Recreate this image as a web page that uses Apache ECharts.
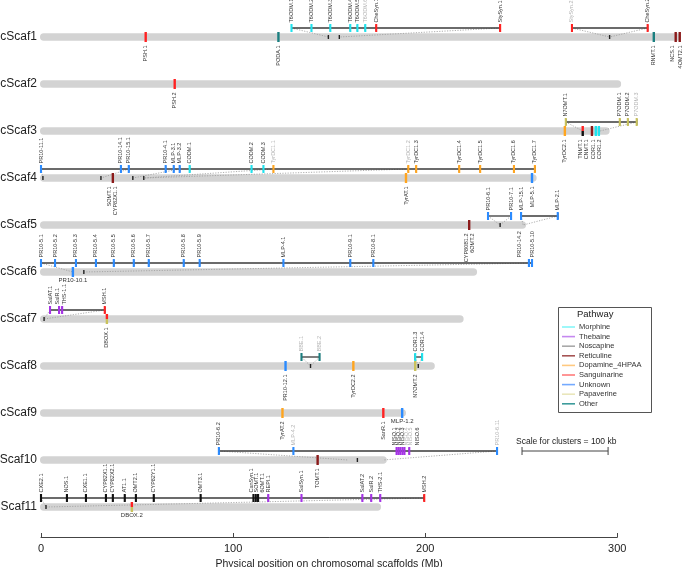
<!DOCTYPE html>
<html><head><meta charset="utf-8">
<script src="https://cdn.jsdelivr.net/npm/echarts@6/dist/echarts.min.js"></script>
<style>html,body{margin:0;padding:0;background:#fff}#c{width:685px;height:567px}</style>
</head><body><div id="c"></div>
<script>
// ---------------- DATA ----------------
const scaffoldNames = ['cScaf1','cScaf2','cScaf3','cScaf4','cScaf5','cScaf6','cScaf7','cScaf8','cScaf9','cScaf10','cScaf11'];
const scaffoldLengths = [333, 302, 296, 258, 252.5, 227, 220, 205, 190, 180, 177];
const pathways = ['Morphine','Thebaine','Noscapine','Reticuline','Dopamine_4HPAA','Sanguinarine','Unknown','Papaverine','Other'];
const axisTicks = [0, 100, 200, 300];
// genes placed directly on scaffolds: [scaffold, position (Mb), name, pathway(s), label mode]
const scaffoldGenes = [
  [1, 54.5, 'PSH.1', 'Sanguinarine', 'v'],
  [1, 123.6, 'PODA.1', 'Other', 'v'],
  [1, 319.0, 'RNMT.1', 'Other', 'v'],
  [1, 330.4, 'NCS.1', 'Reticuline', 'v'],
  [1, 332.5, '4OMT2.1', 'Reticuline', 'v'],
  [2, 69.6, 'PSH.2', 'Sanguinarine', 'v'],
  [3, 272.7, 'TyrDC2.1', 'Dopamine_4HPAA', 'v'],
  [3, 282.0, 'TNMT.1', 'Sanguinarine|Noscapine', 'v'],
  [3, 286.8, 'CNMT.1', 'Reticuline', 'v'],
  [3, 288.8, 'COR1.1', 'Morphine', 'v'],
  [3, 290.4, 'COR1.2', 'Morphine', 'v'],
  [4, 37.4, 'SOMT.1\nCYP82X1.1', 'Reticuline', 'v'],
  [4, 190.0, 'TyrAT.1', 'Dopamine_4HPAA', 'v'],
  [4, 255.6, 'MLP-5.1', 'Unknown', 'v'],
  [5, 222.9, 'CYP80B1.2\n6OMT.2', 'Reticuline', 'v'],
  [6, 16.6, 'PR10-10.1', 'Unknown', 'h'],
  [7, 34.3, 'DBOX.1', 'Sanguinarine|Papaverine', 'v'],
  [8, 127.3, 'PR10-12.1', 'Unknown', 'v'],
  [8, 162.6, 'TyrDC2.2', 'Dopamine_4HPAA', 'v'],
  [8, 194.8, 'N7OMT.2', 'Papaverine', 'v'],
  [9, 125.7, 'TyrAT.2', 'Dopamine_4HPAA', 'v'],
  [9, 178.2, 'SanR.1', 'Sanguinarine', 'v'],
  [9, 188.0, 'MLP-1.2', 'Unknown', 'h'],
  [10, 144.0, 'TOMT.1', 'Reticuline', 'v'],
  [11, 47.3, 'DBOX.2', 'Sanguinarine|Papaverine', 'h']
];
// genes in expanded clusters: [scaffold, cluster, display position (Mb axis), name, pathway, grey label]
const clusterGenes = [
  [1,'1a',130.4,'T6ODM.1','Morphine',0],[1,'1a',140.8,'T6ODM.2','Morphine',0],[1,'1a',150.6,'T6ODM.3','Morphine',0],
  [1,'1a',161.0,'T6ODM.4','Morphine',0],[1,'1a',164.7,'T6ODM.5','Morphine',0],[1,'1a',168.8,'T6ODM.6','Morphine',1],
  [1,'1a',174.5,'CheSyn.1','Sanguinarine',0],[1,'1a',239.0,'StySyn.1','Sanguinarine',0],
  [1,'1b',276.4,'StySyn.2','Sanguinarine',1],[1,'1b',315.8,'CheSyn.2','Sanguinarine',0],
  [3,'3a',273.2,'N7OMT.1','Papaverine',0],[3,'3a',301.3,'P7ODM.1','Papaverine',0],[3,'3a',305.5,'P7ODM.2','Papaverine',0],[3,'3a',310.1,'P7ODM.3','Papaverine',1],
  [4,'4a',0.0,'PR10-11.1','Unknown',0],[4,'4a',41.6,'PR10-14.1','Unknown',0],[4,'4a',45.7,'PR10-15.1','Unknown',0],
  [4,'4a',64.9,'PR10-4.1','Unknown',0],[4,'4a',69.1,'MLP-3.1','Unknown',0],[4,'4a',72.2,'MLP-3.2','Unknown',0],
  [4,'4a',77.4,'CODM.1','Morphine',0],[4,'4a',109.6,'CODM.2','Morphine',0],[4,'4a',115.8,'CODM.3','Morphine',0],
  [4,'4a',121.0,'TyrDC1.1','Dopamine_4HPAA',1],[4,'4a',191.2,'TyrDC1.2','Dopamine_4HPAA',1],[4,'4a',195.3,'TyrDC1.3','Dopamine_4HPAA',0],
  [4,'4a',217.7,'TyrDC1.4','Dopamine_4HPAA',0],[4,'4a',228.6,'TyrDC1.5','Dopamine_4HPAA',0],[4,'4a',246.2,'TyrDC1.6','Dopamine_4HPAA',0],
  [4,'4a',257.1,'TyrDC1.7','Dopamine_4HPAA',0],
  [5,'5a',232.7,'PR10-6.1','Unknown',0],[5,'5a',244.7,'PR10-7.1','Unknown',0],
  [5,'5b',249.9,'MLP-15.1','Unknown',0],[5,'5b',269.0,'MLP-2.1','Unknown',0],
  [6,'6a',0.0,'PR10-5.1','Unknown',0],[6,'6a',7.3,'PR10-5.2','Unknown',0],[6,'6a',18.2,'PR10-5.3','Unknown',0],
  [6,'6a',28.6,'PR10-5.4','Unknown',0],[6,'6a',37.9,'PR10-5.5','Unknown',0],[6,'6a',48.3,'PR10-5.6','Unknown',0],
  [6,'6a',56.1,'PR10-5.7','Unknown',0],[6,'6a',74.3,'PR10-5.8','Unknown',0],[6,'6a',82.6,'PR10-5.9','Unknown',0],
  [6,'6a',126.2,'MLP-4.1','Unknown',0],[6,'6a',161.0,'PR10-9.1','Unknown',0],[6,'6a',173.0,'PR10-8.1','Unknown',0],
  [6,'6a',254.0,'PR10-14.2','Unknown',0],[6,'6a',255.6,'PR10-5.10','Unknown',0],
  [7,'7a',4.7,'SalAT.1','Thebaine',0],[7,'7a',9.4,'SalR.1','Thebaine',0],[7,'7a',11.0,'THS-1.1','Thebaine',0],[7,'7a',33.2,'MSH.1','Sanguinarine',0],
  [8,'8a',135.6,'BBE.1','Other',1],[8,'8a',145.0,'BBE.2','Other',1],
  [8,'8b',194.8,'COR1.3','Morphine',0],[8,'8b',198.4,'COR1.4','Morphine',0],
  [10,'10a',92.6,'PR10-6.2','Unknown',0],[10,'10a',131.4,'MLP-4.2','Unknown',1],
  [10,'10a',185.1,'NISO.1','Thebaine',0],[10,'10a',186.1,'NISO.2','Thebaine',0],[10,'10a',187.1,'NISO.3','Thebaine',0],
  [10,'10a',188.2,'NISO.4','Thebaine',1],[10,'10a',189.2,'NISO.5','Thebaine',1],[10,'10a',191.7,'NISO.6','Thebaine',0],
  [10,'10a',237.4,'PR10-6.11','Unknown',1],
  [11,'11a',0.0,'CXE2.1','Noscapine',0],[11,'11a',13.5,'NOS.1','Noscapine',0],[11,'11a',23.4,'CXE1.1','Noscapine',0],
  [11,'11a',33.8,'CYP82X1.1','Noscapine',0],[11,'11a',37.4,'CYP82X2.1','Noscapine',0],[11,'11a',43.6,'AT1.1','Noscapine',0],
  [11,'11a',49.4,'OMT2.1','Noscapine',0],[11,'11a',58.7,'CYP82Y1.1','Noscapine',0],[11,'11a',83.1,'OMT3.1','Noscapine',0],
  [11,'11a',110.6,'CanSyn.1','Noscapine',0],[11,'11a',111.8,'SOMT.1','Noscapine',0],[11,'11a',113.0,'6OMT.1','Noscapine',0],
  [11,'11a',118.3,'REPI.1','Thebaine',0],[11,'11a',135.6,'SalSyn.1','Thebaine',0],[11,'11a',167.3,'SalAT.2','Thebaine',0],
  [11,'11a',171.9,'SalR.2','Thebaine',0],[11,'11a',176.6,'THS-2.1','Thebaine',0],[11,'11a',199.5,'MSH.2','Sanguinarine',0]
];
// dotted links from cluster display position to genomic position: [scaffold, cluster pos, scaffold pos]
const clusterLinks = [
  [1,130.4,149.6],[1,239.0,155.3],[1,276.4,296.0],[1,315.8,296.0],
  [3,273.2,282.0],[3,310.1,291.0],
  [4,0.0,1.0],[4,45.7,31.2],[4,72.2,47.8],[4,121.0,53.5],[4,191.2,53.5],
  [5,232.7,239.0],[5,244.7,239.0],[5,249.9,251.0],[5,269.0,251.0],
  [6,0.0,16.6],[6,255.6,22.3],
  [7,4.7,1.6],[7,33.2,1.6],
  [8,135.6,140.3],[8,145.0,140.3],[8,194.8,196.4],[8,198.4,196.4],
  [10,92.6,160.0],[10,237.4,178.0],
  [11,0.0,2.6],[11,199.5,2.6]
];
// genomic anchors of clusters on scaffolds: [scaffold, position]
const regionTicks = [[1,149.6],[1,155.3],[1,296.0],[4,1.0],[4,31.2],[4,47.8],[4,53.5],[5,239.0],[6,22.3],[7,1.6],[8,140.3],[8,196.4],[10,164.7],[11,2.6]];
const clusterScaleKb = 100;
const clusterScaleMb = 44.8;   // axis span of 100 kb in cluster view

// ---------------- STYLE / LAYOUT ----------------
const plotColor = {Morphine:'#1fe3ee',Thebaine:'#a633e6',Noscapine:'#111111',Reticuline:'#8b1a1a',Dopamine_4HPAA:'#ffa51f',
  Sanguinarine:'#ff2222',Unknown:'#2b8bff',Papaverine:'#c9c25c',Other:'#1b7f80'};
const legendColor = {Morphine:'#86f6f8',Thebaine:'#c588f0',Noscapine:'#a9a9a9',Reticuline:'#a65454',Dopamine_4HPAA:'#ffc980',
  Sanguinarine:'#ff7b7b',Unknown:'#74aaff',Papaverine:'#e9e6bb',Other:'#3d9c9c'};
const labelShift = {'TNMT.1':-2,'CNMT.1':-5,'COR1.1':-2,'COR1.2':1,'SalR.1':-2,'THS-1.1':2,'PR10-14.2':-9,
  'NISO.1':-2,'NISO.2':0,'NISO.3':2,'NISO.4':4,'NISO.5':6,'NISO.6':8,'CanSyn.1':-2,'SOMT.1':1,'6OMT.1':4,'NCS.1':-3,'4OMT2.1':1};
const FONT = '"Liberation Sans", Arial, Helvetica, sans-serif';
const L = {barH:7.5, geneH:10, geneW:2.4, cDy:-9, cH:8, cW:2.1, tickH:4, below:8.5, above:5.5, fs:5.5};

// ---------------- BUILD ----------------
const X0 = 41, PX = 1.921;
const grid0 = {left:X0, top:13.5, width:PX*334, height:517, outerBoundsMode:'none', containLabel:false};
const clusters = {};
clusterGenes.forEach(g=>{const k=g[1];if(!clusters[k])clusters[k]={scaf:g[0],min:g[2],max:g[2]};
  clusters[k].min=Math.min(clusters[k].min,g[2]);clusters[k].max=Math.max(clusters[k].max,g[2]);});
const clusterList = Object.keys(clusters).map(k=>clusters[k]);

function labelText(x,y,name,grey,mode,rot){
  const st = {text:name, fontSize:L.fs, fill:grey?'#b3b3b3':'#333', fontFamily:FONT, verticalAlign:'middle'};
  if(mode==='h'){ st.align='center'; st.fontSize=6; return {type:'text',x:x,y:y+8.5,style:st}; }
  st.align = rot;
  return {type:'text', x:x, y:y, rotation:Math.PI/2, style:st};
}

const markerSeries = pathways.map(pw=>{
  const items = [];
  scaffoldGenes.forEach(g=>{ if(g[3].split('|')[0]===pw) items.push({kind:'s',scaf:g[0],pos:g[1],name:g[2],pws:g[3].split('|'),mode:g[4]}); });
  clusterGenes.forEach(g=>{ if(g[4]===pw) items.push({kind:'c',scaf:g[0],pos:g[2],name:g[3],pws:[g[4]],grey:g[5]}); });
  return {
    type:'custom', name:pw, xAxisIndex:0, yAxisIndex:0, z:5,
    itemStyle:{color:legendColor[pw]},
    data: items.map(it=>[it.pos, it.scaf-1]),
    renderItem:function(params, api){
      const it = items[params.dataIndex];
      const p = api.coord([it.pos, it.scaf-1]);
      const ch = [];
      const dx = labelShift[it.name]||0;
      if(it.kind==='s'){
        const h = L.geneH, y0 = p[1]-h/2, n = it.pws.length;
        it.pws.forEach((c,i)=>ch.push({type:'rect',shape:{x:p[0]-L.geneW/2,y:y0+i*h/n,width:L.geneW,height:h/n},style:{fill:plotColor[c]}}));
        if(it.mode==='h') ch.push(labelText(p[0]+dx,p[1],it.name,0,'h'));
        else ch.push(labelText(p[0]+dx,p[1]+L.below,it.name,0,'v','right'));
      } else {
        const y = p[1]+L.cDy;
        ch.push({type:'rect',shape:{x:p[0]-0.5,y:y-3,width:1,height:6},style:{fill:'#000'}});
        ch.push({type:'rect',shape:{x:p[0]-L.cW/2,y:y-L.cH/2,width:L.cW,height:L.cH},style:{fill:plotColor[it.pws[0]]}});
        ch.push(labelText(p[0]+dx,y-L.above,it.name,it.grey,'v','left'));
      }
      return {type:'group',children:ch};
    }
  };
});

const option = {
  animation:false,
  backgroundColor:'#fff',
  grid:[grid0, {left:X0, top:13.5, width:PX*300, height:523.5, outerBoundsMode:'none', containLabel:false}],
  xAxis:[
    {type:'value', gridIndex:0, min:0, max:334, show:false},
    {type:'value', gridIndex:1, min:0, max:300, interval:100,
     axisLine:{show:true,lineStyle:{color:'#444',width:1}},
     axisTick:{show:true,inside:true,length:4,lineStyle:{color:'#444'}},
     axisLabel:{show:true,margin:6,fontSize:11,color:'#222',fontFamily:FONT,
       formatter:v=>axisTicks.indexOf(v)>=0?String(v):''},
     splitLine:{show:false},
     name:'Physical position on chromosomal scaffolds (Mb)', nameLocation:'middle', nameGap:19,
     nameTextStyle:{fontSize:10.5,color:'#222',fontFamily:FONT}}
  ],
  yAxis:[
    {type:'category', gridIndex:0, data:scaffoldNames, inverse:true,
     axisLine:{show:false}, axisTick:{show:false}, splitLine:{show:false},
     axisLabel:{margin:4,fontSize:12,color:'#222',fontFamily:FONT}},
    {type:'value', gridIndex:1, show:false, min:0, max:1}
  ],
  legend:{
    orient:'vertical', left:557, top:318, itemWidth:13, itemHeight:1.6, itemGap:1.6, icon:'rect',
    textStyle:{fontSize:7.5,color:'#333',fontFamily:FONT,lineHeight:8, padding:[0,0,0,-1]},
    selectedMode:false,
    data: pathways.map(p=>({name:p, itemStyle:{color:legendColor[p]}}))
  },
  graphic:[
    {type:'rect', left:556, top:305, shape:{width:93, height:105}, style:{fill:'none', stroke:'#555', lineWidth:1}},
    {type:'text', left:577, top:309, style:{text:'Pathway', fontSize:9.5, fill:'#222', fontFamily:FONT}},
    {type:'text', left:516, top:437, style:{text:'Scale for clusters = '+clusterScaleKb+' kb', fontSize:8.5, fill:'#222', fontFamily:FONT}}
  ],
  series:[
    {type:'custom', name:'scaffold', xAxisIndex:0, yAxisIndex:0, z:1, silent:true,
     data: scaffoldLengths.map((l,i)=>[l,i]),
     renderItem:(params,api)=>{
       const a=api.coord([0,api.value(1)]), b=api.coord([api.value(0),api.value(1)]);
       return {type:'rect',shape:{x:a[0]-1,y:a[1]-L.barH/2,width:b[0]-a[0]+1,height:L.barH,r:L.barH/2},style:{fill:'#d3d3d3'}};
     }},
    {type:'custom', name:'links', xAxisIndex:0, yAxisIndex:0, z:2, silent:true,
     data: clusterLinks.map(l=>[l[1],l[0]-1,l[2]]),
     renderItem:(params,api)=>{
       const a=api.coord([api.value(0),api.value(1)]), b=api.coord([api.value(2),api.value(1)]);
       return {type:'line',shape:{x1:a[0],y1:a[1]+L.cDy,x2:b[0],y2:b[1]},style:{stroke:'#9a9a9a',lineWidth:0.8,lineDash:[1.2,1.4]}};
     }},
    {type:'custom', name:'regions', xAxisIndex:0, yAxisIndex:0, z:3, silent:true,
     data: regionTicks.map(r=>[r[1],r[0]-1]),
     renderItem:(params,api)=>{
       const a=api.coord([api.value(0),api.value(1)]);
       return {type:'rect',shape:{x:a[0]-0.7,y:a[1]-L.tickH/2,width:1.4,height:L.tickH},style:{fill:'#222'}};
     }},
    {type:'custom', name:'clusterLines', xAxisIndex:0, yAxisIndex:0, z:4, silent:true,
     data: clusterList.map(c=>[c.min,c.scaf-1,c.max]),
     renderItem:(params,api)=>{
       const a=api.coord([api.value(0),api.value(1)]), b=api.coord([api.value(2),api.value(1)]);
       const y=a[1]+L.cDy;
       return {type:'group',children:[
         {type:'line',shape:{x1:a[0],y1:y,x2:b[0],y2:y},style:{stroke:'#3a3a3a',lineWidth:1.3}},
         {type:'line',shape:{x1:a[0],y1:y-3,x2:a[0],y2:y+3},style:{stroke:'#000',lineWidth:1}},
         {type:'line',shape:{x1:b[0],y1:y-3,x2:b[0],y2:y+3},style:{stroke:'#000',lineWidth:1}}]};
     }},
    {type:'custom', name:'scale', xAxisIndex:0, yAxisIndex:0, z:4, silent:true,
     data:[[250.4, 9, 250.4+clusterScaleMb]],
     renderItem:(params,api)=>{
       const a=api.coord([api.value(0),api.value(1)]), b=api.coord([api.value(2),api.value(1)]);
       const y=a[1]+L.cDy;
       return {type:'group',children:[
         {type:'line',shape:{x1:a[0],y1:y,x2:b[0],y2:y},style:{stroke:'#444',lineWidth:1}},
         {type:'line',shape:{x1:a[0],y1:y-4,x2:a[0],y2:y+4},style:{stroke:'#444',lineWidth:1}},
         {type:'line',shape:{x1:b[0],y1:y-4,x2:b[0],y2:y+4},style:{stroke:'#444',lineWidth:1}}]};
     }}
  ].concat(markerSeries)
};
const chart = echarts.init(document.getElementById('c'));
chart.setOption(option);
</script></body></html>
